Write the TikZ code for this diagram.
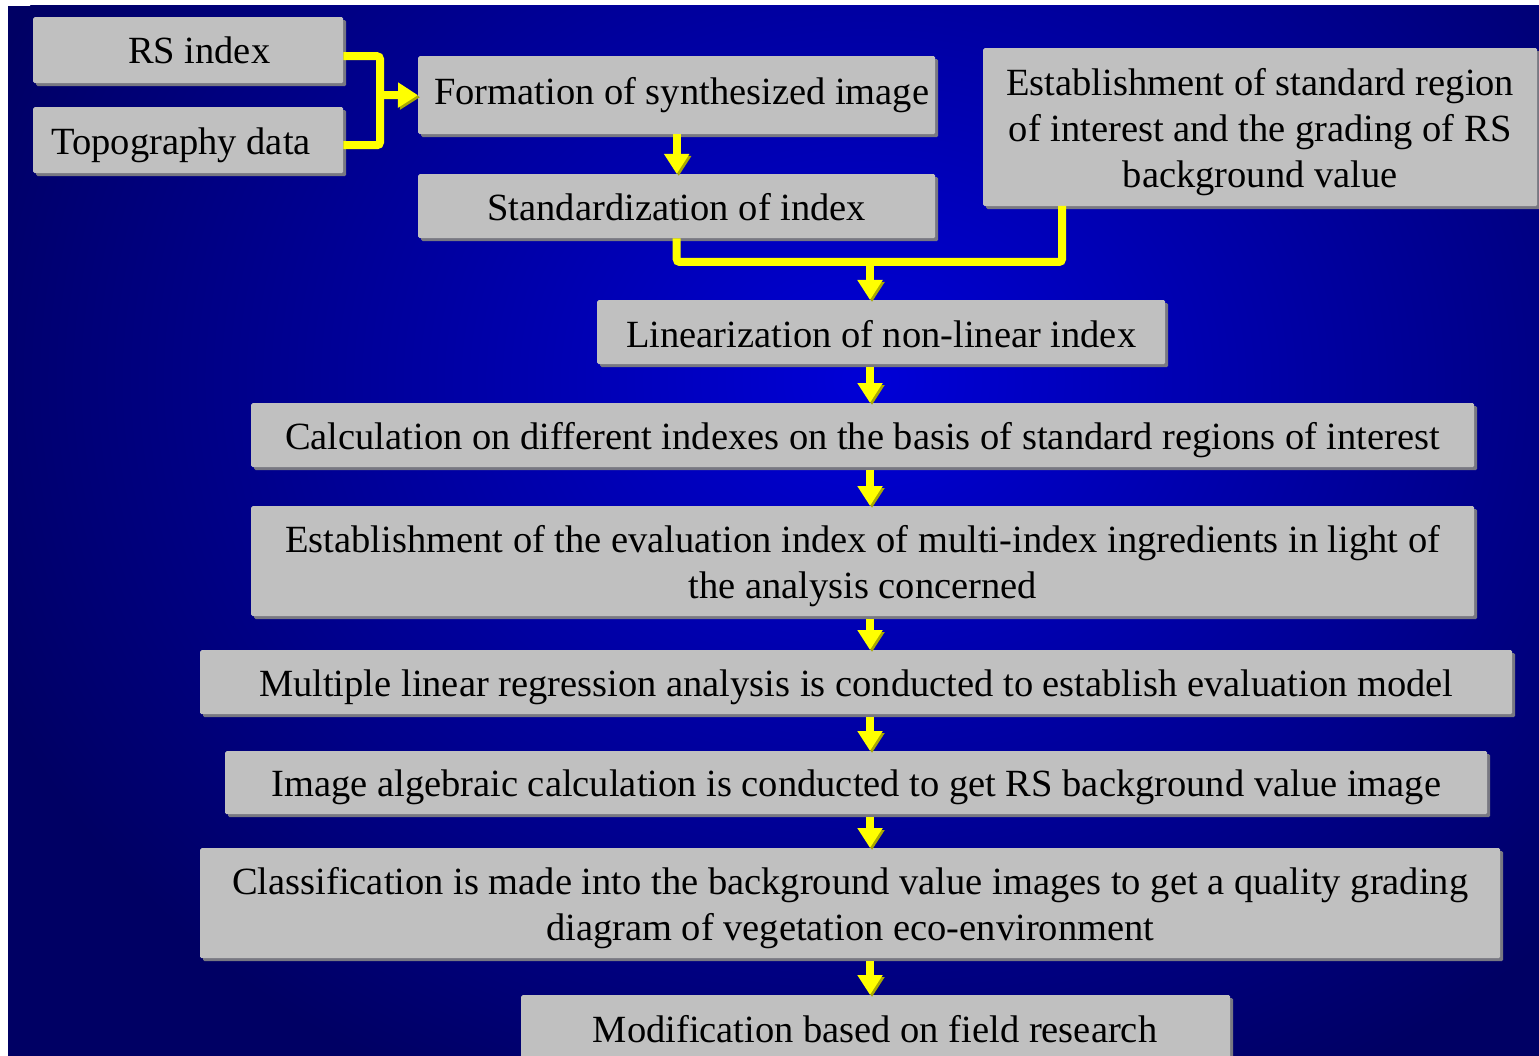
\documentclass[tikz,border=0pt]{standalone}
\usepackage{fontspec}
\setmainfont{Liberation Serif}
\usetikzlibrary{arrows.meta}
\definecolor{bgout}{RGB}{0,0,100}
\definecolor{bgin}{RGB}{0,0,215}
\definecolor{boxgray}{RGB}{192,192,192}
\definecolor{boxdark}{RGB}{120,120,130}
\definecolor{yel}{RGB}{255,255,0}
\definecolor{yelshadow}{RGB}{170,170,0}
\newcommand{\lowstrut}{\rule{0pt}{36pt}}
\tikzset{
  box/.style={draw=none, fill=boxgray, anchor=north west, inner sep=0pt,
    align=center, font=\fontsize{38.5}{46}\selectfont, rounded corners=1.5pt,
    preaction={fill=boxdark, transform canvas={xshift=3pt,yshift=-3pt}}},
  yarrow/.style={draw=yel, line width=8pt, rounded corners=3pt,
    -{Triangle[width=24pt,length=20pt]},
    preaction={draw=yelshadow, transform canvas={xshift=2pt,yshift=-2pt}}},
  yline/.style={draw=yel, line width=8pt, rounded corners=3pt,
    preaction={draw=yelshadow, transform canvas={xshift=2pt,yshift=-2pt}}}
}
\begin{document}
\begin{tikzpicture}[x=1pt,y=-1pt]
\useasboundingbox (0,0) rectangle (1539,1056);
\fill[white] (0,0) rectangle (1539,1056);
\begin{scope}
\clip (8,6) rectangle (1539,1056);
\fill[bgout] (8,6) rectangle (1539,1056);
\shade[inner color=bgin, outer color=bgout] (870,380) ellipse [x radius=950, y radius=800];

\node[box, minimum width=310, minimum height=66] (rs) at (33,17) {\hspace*{22pt}RS index};
\node[box, minimum width=310, minimum height=66] (topo) at (33,107) {\lowstrut Topography data\hspace*{14pt}};
\node[box, minimum width=517, minimum height=78] (form) at (418,56) {\hspace*{10pt}Formation of synthesized image};
\node[box, minimum width=517, minimum height=64] (std) at (418,174) {\rule{0pt}{29pt}Standardization of index};
\node[box, minimum width=554, minimum height=158] (est) at (983,48) {\lowstrut Establishment of standard region\\of interest and the grading of RS\\background value};
\node[box, minimum width=568, minimum height=64] (lin) at (597,300) {\rule{0pt}{31pt}Linearization of non-linear index};
\node[box, minimum width=1223, minimum height=64] (calc) at (251,403) {\lowstrut Calculation on different indexes on the basis of standard regions of interest};
\node[box, minimum width=1223, minimum height=110] (evi) at (251,506) {\lowstrut Establishment of the evaluation index of multi-index ingredients in light of\\the analysis concerned};
\node[box, minimum width=1312, minimum height=64] (mlr) at (200,650) {\lowstrut Multiple linear regression analysis is conducted to establish evaluation model};
\node[box, minimum width=1262, minimum height=63] (img) at (225,751) {\lowstrut Image algebraic calculation is conducted to get RS background value image};
\node[box, minimum width=1300, minimum height=110] (cls) at (200,848) {\lowstrut Classification is made into the background value images to get a quality grading\\diagram of vegetation eco-environment};
\node[box, minimum width=709, minimum height=110] (mod) at (521,995) {};
\node[font=\fontsize{38.5}{46}\selectfont, anchor=base] (modt) at (875,1042) {Modification based on field research};

\coordinate (j1) at (380,95);
\coordinate (j2) at (870,262);
\coordinate (estb) at (1062,206);

\draw[yline] ([yshift=-6pt]rs.east) -| (j1) |- ([yshift=-5pt]topo.east);
\draw[yarrow] (j1) -- (form.west);
\draw[yarrow] (form.south) -- (std.north);
\draw[yline] (std.south) |- (j2) -| (estb);
\draw[yarrow] (j2) -- (lin.north -| j2);
\draw[yarrow] ([yshift=-3pt]lin.south -| j2) -- (calc.north -| j2);
\draw[yarrow] ([yshift=-3pt]calc.south -| j2) -- (evi.north -| j2);
\draw[yarrow] ([yshift=-3pt]evi.south -| j2) -- (mlr.north -| j2);
\draw[yarrow] ([yshift=-3pt]mlr.south -| j2) -- (img.north -| j2);
\draw[yarrow] ([yshift=-3pt]img.south -| j2) -- (cls.north -| j2);
\draw[yarrow] ([yshift=-3pt]cls.south -| j2) -- (mod.north -| j2);
\end{scope}
\end{tikzpicture}
\end{document}
